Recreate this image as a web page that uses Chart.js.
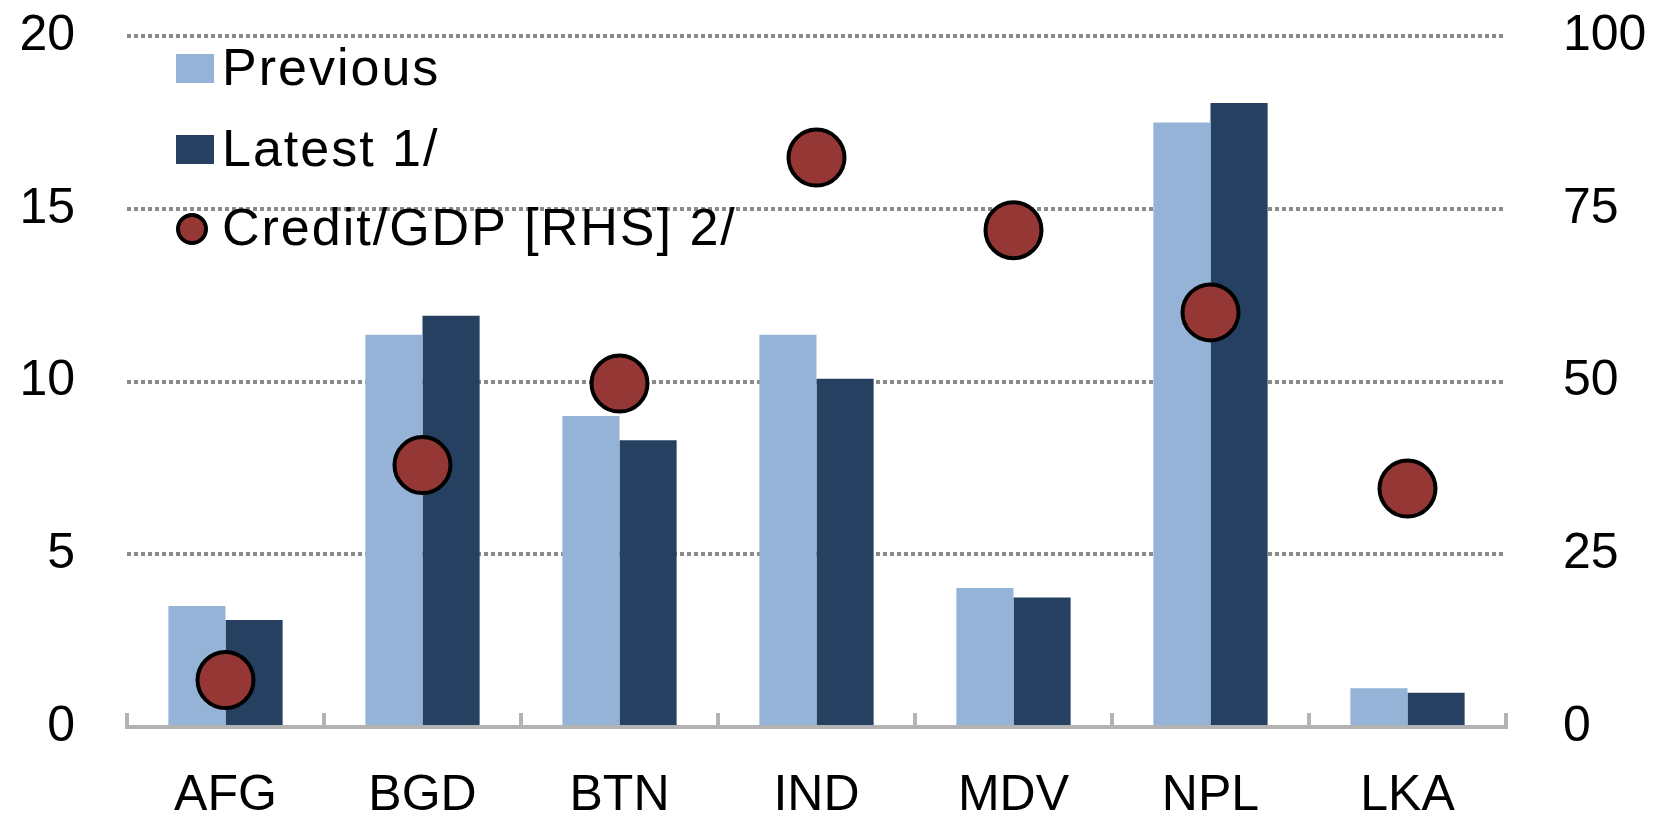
<!DOCTYPE html>
<html>
<head>
<meta charset="utf-8">
<script src="https://cdn.jsdelivr.net/npm/chart.js@4.4.1/dist/chart.umd.min.js"></script>
<style>
    body { margin: 0; background: #fff; }
    #wrap { width: 1657px; height: 815px; }
</style>
</head>
<body>
<div id="wrap"><canvas id="creditChart" width="1657" height="815"></canvas></div>
<script>
const countries = ['AFG', 'BGD', 'BTN', 'IND', 'MDV', 'NPL', 'LKA'];
const previousVals = [3.5, 11.35, 9.0, 11.35, 4.02, 17.5, 1.12];
const latestVals = [3.1, 11.9, 8.3, 10.08, 3.75, 18.06, 0.99];
const creditGdp = [6.8, 37.9, 49.7, 82.4, 71.9, 60.0, 34.5];
const leftTicks = [0, 5, 10, 15, 20];
const rightTicks = [0, 25, 50, 75, 100];

const FONT = '"Liberation Sans", Arial, sans-serif';

// legend sits inside the plot, top-left, like the excel original
const insideLegend = {
    id: 'insideLegend',
    afterDraw(chart) {
        const ctx = chart.ctx;
        const area = chart.chartArea;
        const rows = [33, 114, 193];
        ctx.save();
        ctx.font = '52px ' + FONT;
        ctx.letterSpacing = '2px';
        ctx.textBaseline = 'middle';
        chart.data.datasets.forEach((ds, i) => {
            const x = area.left + 49;
            const y = area.top + rows[i];
            if (ds.type === 'line') {
                ctx.beginPath();
                ctx.arc(x + 16, y, 14, 0, Math.PI * 2);
                ctx.fillStyle = ds.pointBackgroundColor;
                ctx.fill();
                ctx.lineWidth = 4;
                ctx.strokeStyle = ds.pointBorderColor;
                ctx.stroke();
            } else {
                ctx.fillStyle = ds.backgroundColor;
                ctx.fillRect(x, y - 15, 38, 29);
            }
            ctx.fillStyle = '#000';
            ctx.fillText(ds.label, x + 46, y + 2);
        });
        ctx.restore();
    }
};

new Chart(document.getElementById('creditChart'), {
    type: 'bar',
    data: {
        labels: countries,
        datasets: [
            {
                label: 'Previous',
                data: previousVals,
                backgroundColor: '#95B3D7',
                yAxisID: 'y',
                order: 1
            },
            {
                label: 'Latest 1/',
                data: latestVals,
                backgroundColor: '#254061',
                yAxisID: 'y',
                order: 1
            },
            {
                type: 'line',
                label: 'Credit/GDP [RHS] 2/',
                data: creditGdp,
                yAxisID: 'y1',
                showLine: false,
                pointRadius: 28,
                pointHoverRadius: 28,
                pointBackgroundColor: '#953735',
                pointBorderColor: '#000000',
                pointBorderWidth: 4,
                order: 0
            }
        ]
    },
    options: {
        responsive: false,
        devicePixelRatio: 1,
        animation: false,
        categoryPercentage: 0.58,
        barPercentage: 1.0,
        layout: { padding: { top: 36, left: 0, right: 0, bottom: 0 } },
        plugins: {
            legend: { display: false },
            tooltip: { enabled: false }
        },
        scales: {
            x: {
                grid: {
                    display: true,
                    drawOnChartArea: false,
                    drawTicks: true,
                    tickLength: -14,
                    color: '#b3b3b3',
                    lineWidth: 4
                },
                border: { display: true, color: '#b3b3b3', width: 4 },
                ticks: {
                    color: '#000',
                    padding: 53,
                    font: { family: FONT, size: 50 }
                },
                afterFit(scale) { scale.height = 88; }
            },
            y: {
                position: 'left',
                min: 0,
                max: 20,
                afterBuildTicks(scale) { scale.ticks = leftTicks.map(v => ({ value: v })); },
                grid: {
                    drawTicks: true,
                    tickLength: 52,
                    tickColor: 'rgba(0,0,0,0)',
                    color: ctx => ctx.tick && ctx.tick.value === 0 ? 'rgba(0,0,0,0)' : '#8a8a8a',
                    lineWidth: 4
                },
                border: { display: false, dash: [4, 3] },
                ticks: {
                    color: '#000',
                    padding: 0,
                    font: { family: FONT, size: 50 }
                },
                afterFit(scale) { scale.width = 127; }
            },
            y1: {
                position: 'right',
                min: 0,
                max: 100,
                afterBuildTicks(scale) { scale.ticks = rightTicks.map(v => ({ value: v })); },
                grid: {
                    display: true,
                    drawOnChartArea: false,
                    drawTicks: true,
                    tickLength: 57,
                    tickColor: 'rgba(0,0,0,0)'
                },
                border: { display: false },
                ticks: {
                    color: '#000',
                    padding: 0,
                    font: { family: FONT, size: 50 }
                },
                afterFit(scale) { scale.width = 151; }
            }
        }
    },
    plugins: [insideLegend]
});
</script>
</body>
</html>
